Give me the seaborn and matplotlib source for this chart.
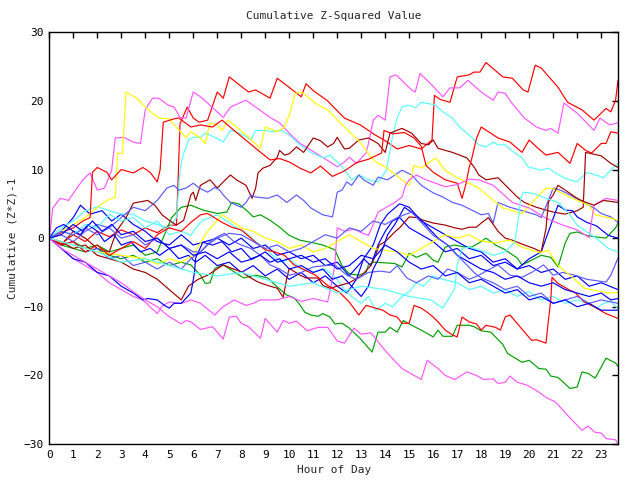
import matplotlib
matplotlib.use("Agg")
import matplotlib.pyplot as plt
import seaborn as sns
import pandas as pd

# ---------------- data (hour, value) ----------------
red_top_h = [0,0.5,1,1.5,2,2.5,3,3.5,4,4.5,5,5.3,5.45,5.75,6.0,6.25,6.6,7.0,7.25,7.5,8.3,8.6,9.2,9.5,9.8,10.5,10.7,11.0,11.6,12.1,12.3,12.96,13.3,13.6,14.0,14.5,15.0,15.5,15.95,16.05,16.3,16.7,17.0,17.5,17.7,17.95,18.2,18.9,19.3,19.75,19.95,20.25,20.5,21.2,21.6,22.2,22.7,23.2,23.4,23.6,23.7]
red_top_v = [0,-0.8,0.5,-0.5,1.0,0.2,1.2,0.5,1.5,0.8,1.9,1.9,16.7,19.1,17.5,16.9,17.2,21.3,20.4,23.5,21.3,21.6,20.4,23.3,22.5,20.6,22.5,21.5,20.0,18.2,17.5,16.5,15.7,15.0,14.2,13.0,13.5,13.0,14.3,20.8,20.2,19.8,23.5,23.8,24.2,24.2,25.6,23.5,23.3,21.6,21.3,25.2,24.8,22.0,19.8,18.7,17.2,18.9,18.4,20.1,23.0]

red_mid_h = [0,0.5,1,1.4,1.7,1.8,2.0,2.4,2.6,3.0,3.5,3.9,4.2,4.5,4.62,4.75,5.2,5.4,5.9,6.3,6.8,7.2,7.6,8.6,9.2,9.6,10.0,10.45,10.9,11.3,11.8,12.3,12.8,13.3,13.85,13.95,14.3,14.8,15.2,15.5,15.7,16.0,16.5,17.0,17.2,17.35,17.5,17.6,17.8,18.0,18.7,19.2,19.7,20.0,20.3,20.7,21.2,21.7,22.0,22.35,22.6,23.0,23.2,23.4,23.7]
red_mid_v = [0,0.8,1.5,2.5,3.0,9.6,10.3,9.6,8.5,10.0,9.5,10.3,9.6,8.2,10.0,16.9,17.4,17.5,16.2,16.5,16.2,17.2,16.0,13.1,11.4,11.6,11.1,10.2,9.5,10.5,9.0,9.8,11.0,11.5,12.4,15.7,15.2,15.4,14.6,13.4,10.6,9.6,8.5,8.0,5.8,7.7,10.3,11.5,14.5,16.2,14.6,14.0,12.5,14.3,13.3,12.1,12.5,10.9,13.8,12.8,12.4,13.8,13.8,15.5,15.3]

red_low_h = [0,0.5,1,1.5,2,2.5,3,3.5,4,4.5,5,5.5,5.9,6.3,6.6,7.2,7.6,8.0,8.6,9.0,9.4,9.8,10.2,11.1,11.6,12.1,12.5,12.9,13.2,13.6,13.9,14.2,14.5,14.7,15.0,15.2,15.5,15.75,16.0,16.2,16.5,16.8,17.0,17.2,17.5,17.8,18.0,18.2,18.6,18.8,19.0,19.2,20.1,20.3,20.7,20.8,20.9,20.95,21.2,21.7,21.9,22.3,22.7,23.2,23.7]
red_low_v = [0,-1.0,-0.5,-2.0,-1.0,-2.5,-1.5,-0.5,-1.5,0.5,1.5,1.0,2.3,3.4,3.6,2.3,1.6,1.2,-0.6,-1.7,-2.0,-2.5,-3.9,-5.4,-6.9,-7.9,-9.3,-11.2,-9.8,-10.2,-10.5,-11.2,-11.5,-12.4,-12.4,-9.8,-10.2,-10.8,-11.5,-12.2,-13.4,-14.1,-14.4,-11.5,-12.2,-12.5,-13.4,-12.7,-13.0,-13.4,-11.5,-11.2,-14.9,-14.8,-15.3,-12.0,-9.0,-5.7,-6.6,-7.6,-7.9,-9.3,-10.0,-11.0,-11.7]

dred_a_h = [0,0.5,1,1.5,2,2.5,2.8,3.2,3.5,3.8,4.1,4.4,4.7,5.0,5.3,5.6,5.75,5.9,6.0,6.1,6.3,6.7,7.0,7.25,7.55,7.8,8.2,8.45,8.6,8.7,8.9,9.2,9.5,9.6,9.8,10.0,10.3,10.6,11.0,11.3,11.6,11.85,12.0,12.3,12.5,12.9,13.3,13.7,14.0,14.2,14.7,15.1,15.5,15.8,16.0,16.2,16.8,17.4,17.7,17.9,18.2,18.7,19.5,19.8,20.3,20.6,21.0,21.5,22.0,22.25,22.35,23.0,23.4,23.7]
dred_a_v = [0,-1.0,1.0,0.0,-1.5,-2.0,1.0,3.0,5.1,5.3,5.5,4.8,3.4,2.6,1.9,2.6,4.4,6.3,6.7,5.5,7.7,8.5,7.3,8.2,9.2,8.5,7.7,5.8,7.3,9.5,10.2,10.6,11.8,12.8,12.1,12.3,13.3,12.5,14.6,14.2,13.3,13.8,14.7,13.0,13.1,14.3,14.6,13.8,12.5,15.3,16.0,15.3,13.8,13.6,14.3,13.1,12.5,11.7,10.4,9.2,8.5,8.8,6.0,5.2,4.5,4.2,3.8,3.5,4.0,4.5,12.5,12.0,10.9,10.3]

dred_b_h = [0,0.5,1,1.5,2,2.5,3,3.5,4,4.5,5.0,5.5,5.8,6.2,6.6,6.9,7.25,7.6,8.0,8.4,8.7,9.1,9.5,9.75,9.9,10.0,10.45,10.7,11.2,11.4,11.7,12.0,12.5,13.0,13.4,13.6,13.75,14.0,14.4,14.6,15.0,15.3,15.6,16.0,16.5,16.9,17.2,17.5,17.8,18.0,18.3,18.7,19.0,19.3,19.8,20.2,20.5,20.7,20.8,21.0,21.2,21.5,22.0,22.3,22.7,23.1,23.7]
dred_b_v = [0,-0.5,-1.5,-1.0,-2.5,-3.0,-3.5,-4.5,-5.0,-6.0,-7.5,-9.0,-7.0,-6.0,-5.4,-4.7,-3.9,-4.4,-4.9,-5.8,-6.4,-6.9,-7.3,-8.6,-5.8,-4.4,-5.4,-5.8,-5.8,-6.9,-7.3,-7.0,-6.5,-5.5,-4.0,-2.5,-1.0,-0.5,0.9,1.5,3.1,3.0,2.6,2.2,1.9,1.5,1.3,1.6,1.6,2.2,3.0,1.0,0.0,-0.3,-1.0,-1.5,-2.0,1.4,5.3,6.3,7.7,7.0,5.8,5.3,4.8,5.5,5.2]

mag_top_h = [0,0.15,0.45,0.8,1.15,1.4,1.7,2.0,2.3,2.6,2.75,3.1,3.5,3.8,4.0,4.3,4.55,4.95,5.2,5.45,5.7,6.0,6.3,6.6,6.9,7.25,7.55,8.0,8.2,8.6,9.2,9.6,10.0,10.45,10.7,11.1,11.7,12.0,12.3,12.5,12.8,13.2,13.3,13.5,13.7,14.0,14.2,14.45,15.1,15.25,15.45,15.95,16.4,16.7,17.1,17.45,18.0,18.5,18.7,19.0,19.25,19.8,20.3,20.7,20.9,21.2,21.45,22.0,22.7,22.95,23.35,23.7]
mag_top_v = [0,4.4,5.8,5.5,7.3,8.5,9.5,7.0,7.3,9.9,14.6,14.7,14.0,13.8,18.7,20.4,20.4,19.4,19.1,17.6,17.5,21.3,20.6,19.7,18.7,17.6,19.1,19.8,20.1,19.1,17.6,16.8,15.3,13.8,13.3,12.4,11.1,10.4,11.1,11.8,10.9,12.4,13.8,17.2,17.9,17.2,23.5,23.8,21.6,21.3,24.0,22.3,20.6,21.9,21.9,23.0,21.3,20.1,21.3,21.1,19.8,17.5,16.2,15.7,16.0,15.3,19.7,18.2,15.7,17.5,16.5,16.8]

mag_mid_h = [0,0.5,1,1.5,2,2.5,3,3.5,3.9,4.5,4.7,5.0,5.5,5.9,6.3,6.9,7.2,7.7,8.2,8.5,8.8,9.5,10.0,10.5,11.0,11.6,11.75,11.9,12.0,12.3,12.7,13.0,13.3,13.5,13.7,14.0,14.4,14.7,14.85,15.0,15.3,15.7,16.1,16.5,17.0,17.5,17.9,18.5,19.3,20.0,20.7,21.4,22.0,22.5,22.7,23.2,23.7]
mag_mid_v = [0,-1.5,-3.0,-4.0,-5.0,-6.5,-7.5,-8.5,-9.0,-11.0,-9.9,-9.3,-9.5,-9.0,-9.5,-11.2,-10.1,-9.0,-9.8,-9.5,-9.0,-9.0,-8.5,-9.2,-8.8,-9.3,-6.9,-3.9,1.5,1.0,1.3,0.8,0.4,2.0,3.8,4.4,5.2,6.0,7.7,8.5,9.2,8.5,8.0,7.5,7.8,8.6,8.5,7.7,5.2,4.4,2.9,1.9,1.2,0.1,4.8,5.8,5.5]

mag_low_h = [0,0.5,1,1.5,2,2.5,3,3.5,4.0,4.5,4.9,5.5,5.7,5.9,6.3,6.8,7.25,7.5,7.8,8.0,8.3,8.8,9.0,9.5,9.75,10.0,10.3,10.75,11.2,11.6,12.0,12.3,12.7,13.0,13.4,14.1,14.7,15.5,15.75,16.2,16.5,16.9,17.4,17.8,18.1,18.5,18.7,19.0,19.2,19.5,19.9,20.3,20.7,21.1,21.7,22.2,22.45,22.75,23.0,23.2,23.6,23.7]
mag_low_v = [0,-1.5,-2.5,-3.5,-4.5,-5.5,-6.5,-7.8,-9.0,-10.0,-11.2,-12.5,-12.0,-12.2,-13.3,-12.9,-14.7,-11.5,-11.4,-12.4,-12.9,-14.6,-11.7,-13.7,-12.0,-12.4,-12.1,-13.5,-13.0,-13.0,-15.0,-15.3,-13.1,-14.0,-13.8,-16.8,-19.0,-20.6,-17.8,-19.0,-20.0,-20.6,-19.5,-20.0,-20.6,-20.5,-21.2,-21.0,-20.1,-21.0,-21.4,-22.2,-23.2,-23.9,-26.2,-28.0,-27.4,-28.3,-28.4,-29.2,-29.4,-29.9]

yel_top_h = [0,0.5,1,1.5,2,2.4,2.75,2.85,3.05,3.2,3.65,4.0,4.3,4.6,5.0,5.2,5.7,5.9,6.3,6.5,6.7,7.0,7.2,7.45,7.8,8.3,8.8,9.0,9.5,9.8,10.0,10.25,10.5,11.2,11.6,12.1,12.45,13.0,13.4,13.7,14.0,14.3,14.7,15.0,15.2,15.5,16.1,16.5,17.0,17.5,17.9,18.4,18.9,19.7,20.7,21.0,21.8,22.5,22.75,23.4,23.7]
yel_top_v = [0,1.0,2.0,3.0,4.5,5.5,6.0,12.4,12.3,21.3,20.4,19.1,18.2,17.5,17.4,16.5,14.7,15.5,14.6,13.8,16.8,16.5,15.7,17.2,16.2,14.7,13.1,16.2,15.5,16.2,17.9,21.1,21.3,19.4,18.7,16.9,15.7,13.8,11.8,10.9,10.4,9.6,8.5,7.7,10.6,10.2,11.7,9.9,8.8,8.0,7.3,5.8,4.4,3.6,7.3,7.2,5.8,4.8,3.4,2.9,2.6]

yel_mid_h = [0,1,2,3,4,4.5,5,5.5,6,6.3,6.6,7.2,7.6,8,8.5,9,9.5,10,10.5,11,11.5,12,12.5,13,13.5,14,14.5,15,15.5,16,16.5,17,17.5,17.9,18.5,19.2,19.7,20.4,20.8,21.2,21.7,22.3,22.6,23.3,23.7]
yel_mid_v = [0,-1.0,-2.0,-2.5,-3.0,-3.8,-3.0,-3.5,-2.5,-0.7,1.0,3.4,2.5,1.5,1.0,0.0,-0.5,-1.5,-1.0,-2.0,-1.5,-0.5,0.5,-0.5,-1.5,-1.8,-2.0,-2.5,-1.5,-0.5,0.5,0.0,0.5,-0.3,-0.7,-0.3,-1.3,-2.1,-1.8,-4.0,-5.4,-7.3,-7.5,-8.0,-7.9]

cyan_top_h = [0,0.5,1,1.5,2,2.5,3,3.5,4,4.5,5,5.3,5.45,5.55,5.8,6.0,6.3,6.5,6.9,7.25,7.55,7.8,8.1,8.4,8.6,9.0,9.3,9.7,10.0,10.45,10.9,11.4,11.7,12.0,12.3,12.6,12.9,13.3,13.7,14.05,14.3,14.5,14.7,14.95,15.25,15.5,16.1,16.4,16.8,17.1,17.6,17.9,18.2,18.5,18.7,19.0,19.25,19.7,19.95,20.5,20.8,21.1,21.5,22.0,22.4,22.7,23.1,23.5,23.7]
cyan_top_v = [0,1.5,2.5,4.0,4.6,4.0,3.5,3.5,2.5,2.0,1.5,3.0,9.9,11.8,14.3,14.7,14.7,15.3,14.7,14.0,15.7,15.5,15.0,14.3,15.7,15.7,15.5,15.7,15.0,13.6,12.5,11.7,12.1,11.1,10.0,8.5,9.2,8.5,8.2,9.9,14.7,17.6,19.1,19.4,19.0,19.8,19.4,18.4,17.5,16.2,14.7,13.6,13.3,14.0,13.6,13.6,12.8,11.7,10.4,9.9,10.2,9.5,8.7,8.2,9.6,9.3,8.8,10.3,10.8]

cyan_mid_h = [0,0.5,1,1.5,2,2.5,3,3.5,4,4.5,5,5.5,5.9,6.1,6.4,7.0,7.4,7.8,8.2,8.6,9.0,9.3,9.7,10.0,10.5,11.0,11.5,12.0,12.3,12.6,13.0,13.3,13.6,14.0,14.3,14.7,15.0,15.3,15.6,16.0,16.4,17,17.5,18,18.5,19,19.5,20,20.5,21,21.5,22,22.4,22.8,23.1,23.4,23.7]
cyan_mid_v = [0,1.0,0.5,2.0,1.5,3.5,2.5,3.0,1.5,2.5,0.5,1.0,0.4,1.5,2.6,3.4,2.5,1.5,0.8,-0.5,-1.5,-2.5,-3.5,-3.0,-4.5,-5.0,-4.5,-6.0,-7.5,-8.5,-9.5,-8.5,-10.5,-9.5,-10.0,-8.5,-7.8,-6.5,-7.0,-5.5,-6.0,-6.5,-7.5,-7.0,-8.0,-7.5,-8.5,-7.8,-9.0,-8.5,-9.5,-9.0,-9.5,-10.2,-9.5,-9.2,-10.3]

cyan_low_h = [0,1,2,3,4,5,6,7,8,9,10,11,12,13,14,15,15.9,16.4,16.6,16.9,17.0,17.2,17.5,17.9,18.5,19.0,19.4,19.55,19.65,19.75,20.2,20.7,21.2,21.6,22.0,22.4,22.8,23.3,23.7]
cyan_low_v = [0,-1.0,-2.0,-3.5,-3.0,-4.0,-5.0,-5.5,-5.0,-6.0,-7.0,-6.5,-8.0,-7.0,-7.5,-8.5,-9.0,-10.2,-9.0,-7.3,-3.9,-1.5,-1.3,-1.7,-2.5,-2.0,-0.6,2.9,5.8,6.7,6.5,5.8,5.2,3.8,1.9,0.9,0.0,-1.5,-2.0]

grn_a_h = [0,0.5,1,1.5,2,2.5,3,3.5,4,4.5,4.8,5.1,5.5,5.9,6.4,7.0,7.4,7.6,7.9,8.3,8.5,8.8,9.2,9.6,10.0,10.45,10.9,11.4,11.9,12.2,12.5,12.9,13.2,13.3,13.5,14.0,14.4,14.7,15.0,15.3,15.7,16.0,16.2,16.5,16.9,17.3,17.6,17.9,18.2,18.6,19.0,19.5,19.7,20.1,20.5,20.9,21.2,21.5,21.7,22.0,22.4,22.75,23.2,23.6,23.7]
grn_a_v = [0,-1.0,-0.5,-1.5,-1.0,-2.0,-1.5,-1.0,-2.5,-2.0,0.5,3.0,4.5,4.8,4.1,3.6,3.8,5.2,5.0,3.8,3.1,3.4,2.6,1.6,0.4,-0.3,-0.6,-1.0,-1.7,-4.0,-5.2,-5.4,-5.0,-3.9,-3.5,-3.6,-3.7,-4.2,-2.2,-2.8,-2.2,-3.2,-3.5,-1.3,-1.0,-1.3,-1.3,-0.7,0.0,-1.0,-1.7,-2.9,-3.9,-3.2,-2.5,-2.8,-4.2,-0.7,0.7,0.9,0.4,0.2,0.0,1.5,2.2]

grn_b_h = [0,0.5,1,1.5,2,2.5,3,3.5,4,4.5,5,5.5,5.9,6.3,6.5,6.7,6.9,7.25,7.7,8.1,8.6,9.1,9.5,9.9,10.2,10.4,10.65,10.9,11.2,11.4,11.7,11.9,12.2,12.5,12.95,13.45,13.7,14.0,14.2,14.5,14.75,15.1,15.5,16.0,16.2,16.4,16.8,17.0,17.5,17.7,18.0,18.4,18.9,19.1,19.7,20.0,20.4,20.7,20.9,21.2,21.7,22.0,22.2,22.45,22.75,23.2,23.6,23.7]
grn_b_v = [0,-1.0,-1.5,-2.0,-1.5,-2.5,-3.0,-2.5,-3.5,-3.0,-4.0,-3.5,-3.9,-5.4,-6.6,-6.5,-4.4,-3.9,-4.9,-5.8,-5.4,-5.8,-7.1,-8.3,-8.7,-9.5,-10.8,-11.2,-11.4,-11.0,-11.5,-12.5,-12.4,-13.1,-14.6,-16.6,-13.7,-13.7,-13.0,-13.7,-12.0,-12.7,-13.4,-14.4,-13.4,-14.3,-14.3,-12.7,-12.7,-12.9,-13.5,-13.7,-15.5,-16.8,-18.1,-17.8,-19.0,-19.1,-20.1,-20.3,-21.9,-21.7,-19.5,-19.7,-20.4,-17.5,-18.2,-18.7]

blue_a_h = [0,0.5,1,1.3,1.7,2.2,2.6,3,3.5,4,4.5,5,5.5,6,6.5,7,7.5,8,8.5,9,9.5,10,10.5,11,11.5,12,12.5,13,13.5,13.8,14.1,14.6,15.0,15.5,16,16.5,17,17.5,18,18.5,19,19.5,20,20.5,21,21.5,22,22.5,23,23.7]
blue_a_v = [0,1.0,3.0,4.8,3.5,4.0,2.5,3.5,2.0,1.0,-0.5,-1.0,0.5,-1.0,-0.5,0.0,-1.0,0.0,-1.5,-1.0,-2.5,-2.0,-3.0,-2.5,-4.0,-3.5,-5.5,-3.5,-1.0,2.0,3.5,5.0,4.5,2.5,1.5,0.5,-0.5,-1.5,-2.0,-3.5,-3.0,-4.5,-4.0,-5.0,-4.5,-6.0,-5.5,-7.0,-6.5,-7.5]

blue_b_h = [0,0.3,0.6,1.0,1.3,1.6,2.0,2.3,2.7,3.0,3.4,3.8,4.2,4.6,5.0,5.4,5.8,6.1,6.5,7.0,7.5,8.0,8.5,9.0,9.5,10.0,10.5,11.0,11.5,12.0,12.4,12.8,13.1,13.4,13.7,14.0,14.3,14.6,15.0,15.5,16.0,16.5,17.0,17.5,18.0,18.5,19.0,19.5,20.0,20.5,20.9,21.2,21.5,21.8,22.0,22.4,22.8,23.3,23.7]
blue_b_v = [0,1.5,2.0,1.0,0.5,2.0,1.0,-0.5,0.5,-1.0,-0.5,-2.0,-1.5,-2.5,-1.5,-3.0,-2.5,-3.5,-2.5,-4.0,-3.5,-5.0,-4.0,-5.5,-4.5,-6.0,-5.0,-6.5,-5.5,-7.0,-8.0,-6.0,-3.0,-4.0,-1.0,1.0,2.5,3.0,1.5,0.5,-0.5,-2.0,-1.5,-3.0,-2.5,-4.0,-3.5,-4.5,-3.0,-2.0,1.9,4.8,4.1,4.0,3.1,2.3,1.8,0.4,0.0]

blue_c_h = [0,0.5,1,1.5,2,2.5,3,3.5,3.9,4.1,4.5,4.8,5.0,5.2,5.5,5.9,6.0,6.05,6.1,6.4,6.8,7.2,7.6,8.0,8.4,8.8,9.2,9.6,10.0,10.5,11.0,11.4,11.8,12.2,12.6,13.0,13.3,13.5,13.8,14.1,14.4,14.8,15.0,15.4,15.8,16.2,16.6,17.0,17.5,18.0,18.5,19.0,19.5,20.0,20.5,21.0,21.5,22.0,22.5,23.0,23.4,23.7]
blue_c_v = [0,-1.5,-3.0,-3.5,-5.0,-5.5,-7.0,-8.0,-9.0,-8.8,-9.0,-9.8,-10.2,-9.5,-9.5,-8.0,-6.1,-5.0,-2.9,-0.6,-1.0,-0.5,-2.0,-1.5,-3.0,-2.5,-3.5,-3.0,-4.5,-4.0,-5.0,-4.5,-6.0,-5.5,-7.0,-8.5,-7.0,-4.5,-2.5,0.5,2.0,4.5,4.0,3.0,1.5,0.0,-1.0,-2.5,-3.5,-4.5,-5.0,-6.0,-5.5,-6.5,-7.0,-6.5,-7.5,-8.0,-8.5,-8.0,-9.0,-8.8]

blue_d_h = [0,0.5,1,1.4,1.8,2.2,2.6,3.0,3.5,4.0,4.5,5.0,5.5,6.0,6.5,7.0,7.5,8.0,8.5,9.0,9.5,10.0,10.5,11.0,11.5,12.0,12.5,13.0,13.5,14.0,14.5,15.0,15.5,16.0,16.5,17.0,17.5,18.0,18.5,19.0,19.5,20.0,20.5,21.0,21.5,22.0,22.5,23.0,23.7]
blue_d_v = [0,0.5,2.0,1.0,2.5,1.0,2.0,0.5,1.0,-0.5,0.0,-1.5,-1.0,-2.5,-2.0,-3.0,-2.0,-3.5,-3.0,-2.0,-3.5,-3.0,-2.5,-3.5,-3.0,-4.5,-4.0,-2.5,-3.0,-1.0,-2.0,-3.5,-4.5,-4.0,-5.5,-5.0,-6.5,-6.0,-7.0,-8.0,-7.5,-9.0,-8.5,-9.5,-9.0,-10.0,-9.5,-10.5,-10.5]

slate_a_h = [0,0.5,1,1.5,2,2.5,3,3.5,4,4.5,4.9,5.2,5.4,5.7,6.0,6.25,6.6,6.9,7.1,7.25,7.55,8.0,8.2,8.4,8.6,9.1,9.5,9.9,10.3,10.6,10.9,11.4,11.8,11.9,12.0,12.2,12.4,12.6,12.9,13.1,13.5,13.7,14.1,14.7,15.1,15.5,16.0,16.4,16.8,17.2,17.6,18.0,18.3,18.5,18.7,19.2,19.9,20.3,20.5,20.8,21.0,21.3,21.7,22.1,22.7,23.0,23.4,23.7]
slate_a_v = [0,0.5,-0.5,1.0,2.0,1.5,3.0,4.5,4.0,5.5,7.3,7.7,7.0,7.3,8.0,7.3,6.7,7.4,7.0,6.3,5.2,4.5,5.2,6.3,6.0,5.8,6.3,5.2,6.3,5.5,4.4,3.4,3.1,4.8,6.7,7.0,8.2,7.7,9.2,8.5,7.7,8.9,8.5,9.9,9.2,7.7,6.6,6.0,5.2,4.8,4.1,3.4,3.6,2.2,5.2,4.5,3.8,3.4,3.0,5.5,7.3,7.0,6.3,5.5,4.4,3.6,3.1,2.3]

slate_b_h = [0,0.5,1,1.5,2,2.5,3,3.5,4,4.5,5,5.5,5.9,6.3,6.7,7.0,7.3,7.7,8.0,8.4,8.8,9.2,9.6,10.0,10.5,11.0,11.5,11.9,12.4,12.8,13.3,13.8,14.2,14.5,14.9,15.3,15.8,16.2,16.6,17.0,17.5,17.9,18.2,18.7,19.2,19.7,20.1,20.6,21.0,21.4,21.9,22.4,23.2,23.4,23.7]
slate_b_v = [0,-1.0,-0.5,-2.0,-1.5,-3.0,-2.5,-4.0,-3.5,-4.5,-3.5,-4.5,-3.0,-2.0,-0.5,0.2,0.7,-0.5,-1.0,-1.5,-2.5,-3.9,-4.5,-5.4,-5.0,-4.2,-4.0,-3.9,-5.4,-6.0,-5.0,-4.8,-5.0,-4.0,-5.8,-6.5,-5.5,-6.0,-4.5,-5.0,-6.0,-5.4,-4.8,-3.9,-5.4,-5.7,-5.0,-3.9,-5.4,-5.0,-5.4,-6.0,-6.4,-5.4,-2.9]

slate_c_h = [0,0.5,1,1.5,2,2.5,3,3.5,4,4.5,5,5.5,6.0,6.3,6.6,7.0,7.5,8.0,8.5,9.0,9.5,10.0,10.5,11.0,11.5,12.0,12.5,13.0,13.5,14.0,14.5,15.1,15.5,16.0,16.6,17.2,17.4,17.7,18.0,18.5,19,19.5,20,20.5,21,21.5,22,22.5,23,23.7]
slate_c_v = [0,1.0,0.5,1.5,0.5,1.5,0.0,0.5,-1.0,0.0,-1.5,-1.0,-2.0,-2.0,-1.0,0.0,0.7,0.5,-0.5,-1.5,-1.0,-2.0,-1.5,-0.5,0.5,0.0,1.5,1.0,2.5,2.0,3.0,3.8,2.3,0.4,-1.0,-3.2,-3.9,-5.0,-5.8,-6.5,-7.5,-7.0,-8.5,-8.0,-9.5,-9.0,-8.5,-9.5,-9.0,-9.5]

# draw order and colours (gnuplot-like palette)
series = [
    ("red", red_top_h, red_top_v), ("green", grn_a_h, grn_a_v), ("blue", blue_a_h, blue_a_v),
    ("magenta", mag_top_h, mag_top_v), ("cyan", cyan_top_h, cyan_top_v), ("darkred", dred_a_h, dred_a_v),
    ("slate", slate_a_h, slate_a_v), ("yellow", yel_top_h, yel_top_v),
    ("red", red_mid_h, red_mid_v), ("green", grn_b_h, grn_b_v), ("blue", blue_b_h, blue_b_v),
    ("magenta", mag_mid_h, mag_mid_v), ("cyan", cyan_mid_h, cyan_mid_v), ("darkred", dred_b_h, dred_b_v),
    ("slate", slate_b_h, slate_b_v), ("yellow", yel_mid_h, yel_mid_v),
    ("red", red_low_h, red_low_v), ("blue", blue_c_h, blue_c_v),
    ("magenta", mag_low_h, mag_low_v), ("cyan", cyan_low_h, cyan_low_v),
    ("slate", slate_c_h, slate_c_v), ("blue", blue_d_h, blue_d_v),
]
palette = {"red": "#ff0000", "green": "#00a000", "blue": "#0000ff", "magenta": "#ff55ff",
           "cyan": "#55ffff", "darkred": "#a00000", "slate": "#5a5aff", "yellow": "#ffff00"}

sns.set_theme(style="white")
plt.rcParams["font.family"] = ["DejaVu Sans Mono", "DejaVu Sans"]

fig = plt.figure(figsize=(6.4, 4.8), dpi=100)
ax = fig.add_axes([0.077, 0.075, 0.8886, 0.8577])

for i, (cname, h, v) in enumerate(series):
    df = pd.DataFrame({"hour": h, "val": v})
    sns.lineplot(data=df, x="hour", y="val", ax=ax, color=palette[cname], lw=0.85,
                 sort=False, estimator=None, legend=False)

ax.set_xlim(0, 23.7)
ax.set_ylim(-30, 30)
ax.set_xticks(range(0, 24))
ax.set_yticks(range(-30, 31, 10))
ax.tick_params(direction="in", length=4, width=1, top=True, right=True,
               labelsize=8, colors="black", pad=4)
for s in ax.spines.values():
    s.set_color("black")
    s.set_linewidth(1.0)
ax.set_xlabel("")
ax.set_ylabel("")
fig.text(0.522, 0.966, "Cumulative Z-Squared Value", ha="center", va="center", fontsize=8)
fig.text(0.522, 0.021, "Hour of Day", ha="center", va="center", fontsize=8)
fig.text(0.019, 0.504, "Cumulative (Z*Z)-1", ha="center", va="center", rotation=90, fontsize=8)

fig.savefig("out.png", dpi=100)
